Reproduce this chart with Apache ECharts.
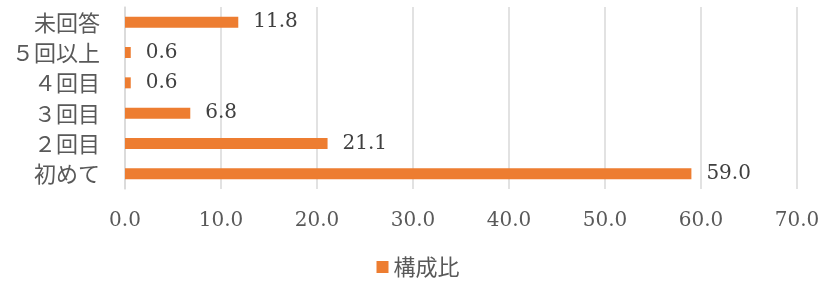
<!DOCTYPE html>
<html>
<head>
<meta charset="utf-8">
<script src="https://cdn.jsdelivr.net/npm/echarts@6/dist/echarts.min.js"></script>
<style>
  html, body { margin: 0; padding: 0; background: #fff; }
  #main { width: 836px; height: 287px; }
</style>
</head>
<body>
<div id="main"></div>
<script>
// 回数別 構成比
var categories = ['初めて', '２回目', '３回目', '４回目', '５回以上', '未回答'];
var values = [59.0, 21.1, 6.8, 0.6, 0.6, 11.8];
var seriesName = '構成比';

var numFont = "'DejaVu Serif', 'Noto Sans CJK JP', serif";
var jpFont = "'Noto Sans CJK JP', sans-serif";

var myChart = echarts.init(document.getElementById('main'));

var option = {
    animation: false,
    grid: { left: 125, right: 39, top: 7, bottom: 98, containLabel: false },
    legend: {
        bottom: 4,
        left: 'center',
        itemWidth: 12,
        itemHeight: 12,
        itemGap: 6,
        icon: 'rect',
        textStyle: { color: '#595959', fontSize: 22, fontFamily: jpFont },
        data: [seriesName]
    },
    xAxis: {
        type: 'value',
        min: 0,
        max: 70,
        interval: 10,
        axisLine: { show: false },
        axisTick: { show: false },
        splitLine: { lineStyle: { color: '#d9d9d9', width: 1.5 } },
        axisLabel: {
            margin: 22,
            color: '#595959',
            fontSize: 20,
            fontFamily: numFont,
            formatter: function (v) { return v.toFixed(1); }
        }
    },
    yAxis: {
        type: 'category',
        data: categories,
        axisLine: { show: true, lineStyle: { color: '#d9d9d9', width: 1.5 } },
        axisTick: { show: false },
        axisLabel: {
            margin: 25,
            color: '#595959',
            fontSize: 22,
            fontFamily: jpFont
        }
    },
    series: [{
        name: seriesName,
        type: 'bar',
        data: values,
        barWidth: 11,
        itemStyle: { color: '#ED7D31' },
        label: {
            show: true,
            position: 'right',
            distance: 15,
            color: '#404040',
            fontSize: 20,
            fontFamily: numFont,
            formatter: function (p) { return p.value.toFixed(1); }
        }
    }]
};

myChart.setOption(option);
</script>
</body>
</html>
